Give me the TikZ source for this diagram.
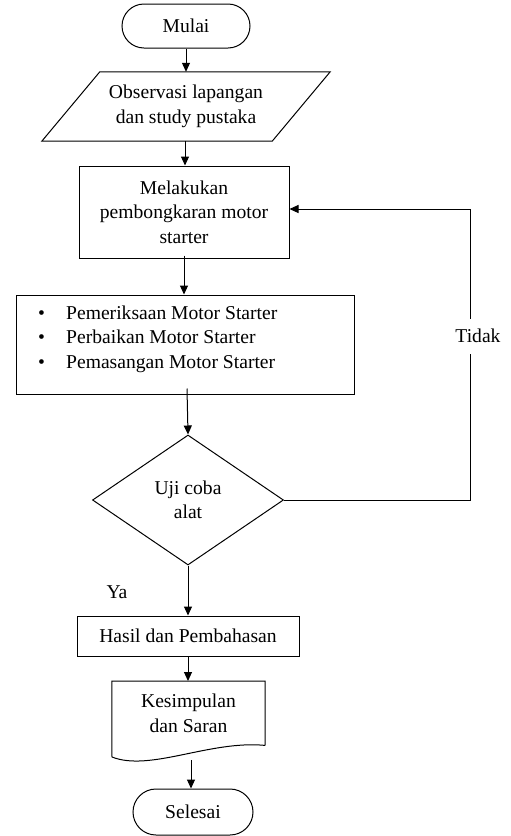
\documentclass[tikz,border=0pt]{standalone}
\usepackage{fontspec}
\setmainfont{Liberation Serif}
\usetikzlibrary{shapes.misc,shapes.geometric,arrows.meta}
\begin{document}
\begin{tikzpicture}[x=1pt,y=-1pt,
  every node/.style={font=\fontsize{19.6}{24.5}\selectfont},
  line/.style={line width=1pt},
  arr/.style={line width=1pt,-{Triangle[length=9pt,width=8pt]}},
  term/.style={rounded rectangle,draw,line width=1pt,inner sep=0pt},
  boxn/.style={rectangle,draw,line width=1pt,inner sep=0pt,align=center},
  dec/.style={diamond,draw,line width=1pt,inner sep=0pt,align=center}]
\useasboundingbox (0,0) rectangle (511,836);

% nodes
\node[term,minimum width=128pt,minimum height=44pt] (mulai) at (186,26) {Mulai};
\node[inner sep=0pt,minimum width=288pt,minimum height=69pt,align=center] (obs) at (186,106.5) {Observasi lapangan\\dan study pustaka};
\draw[line] ([xshift=58pt]obs.north west) -- (obs.north east) -- ([xshift=-58pt]obs.south east) -- (obs.south west) -- cycle;
\node[boxn,minimum width=210pt,minimum height=92pt] (mel) at (184,212) {Melakukan\\pembongkaran motor\\starter};
\node[boxn,minimum width=338pt,minimum height=99pt] (bul) at (185,344.5) {};
\node[anchor=west,inner sep=0pt,align=left] (bultext) at (38,339)
  {\makebox[28pt][l]{\textbullet}Pemeriksaan Motor Starter\\
   \makebox[28pt][l]{\textbullet}Perbaikan Motor Starter\\
   \makebox[28pt][l]{\textbullet}Pemasangan Motor Starter};
\node[dec,minimum width=191pt,minimum height=130pt] (uji) at (188,500) {Uji coba\\alat};
\node[inner sep=0pt] (ya) at (117,592) {Ya};
\node[boxn,minimum width=222pt,minimum height=40pt] (hasil) at (188,636) {Hasil dan Pembahasan};
\node[inner sep=0pt,minimum width=153pt,minimum height=64pt,align=center,anchor=north] (kes) at (188.5,681) {Kesimpulan\\dan Saran};
\draw[line] (kes.south east) -- (kes.north east) -- (kes.north west) -- (112,757)
  .. controls (150,772) and (210,740) .. (kes.south east);
\node[term,minimum width=120pt,minimum height=46pt] (sel) at (193,812) {Selesai};

% coordinates
\coordinate (fb1) at (470,500);
\coordinate (fb2) at (470,209);
\coordinate (kesb) at (191,760);

% connectors
\draw[arr] (mulai.south) -- (mulai.south |- obs.north);
\draw[arr] ([xshift=-1pt]obs.south) -- ([xshift=-1pt]obs.south |- mel.north);
\draw[arr] ([yshift=3pt]mel.south) -- (mel.south |- bul.north);
\draw[arr] ([xshift=2pt,yshift=6pt]bul.south) -- (uji.north);
\draw[arr] (uji.south) -- (hasil.north);
\draw[arr] (hasil.south) -- (hasil.south |- kes.north);
\draw[arr] (kesb) -- (kesb |- sel.north);
\draw[arr] (uji.east) -- (fb1) -- (fb2) -- (mel.east |- fb2);
\node[fill=white,inner sep=0pt,minimum width=46pt,minimum height=35pt] (tidak) at (478,336) {Tidak};
\end{tikzpicture}
\end{document}
